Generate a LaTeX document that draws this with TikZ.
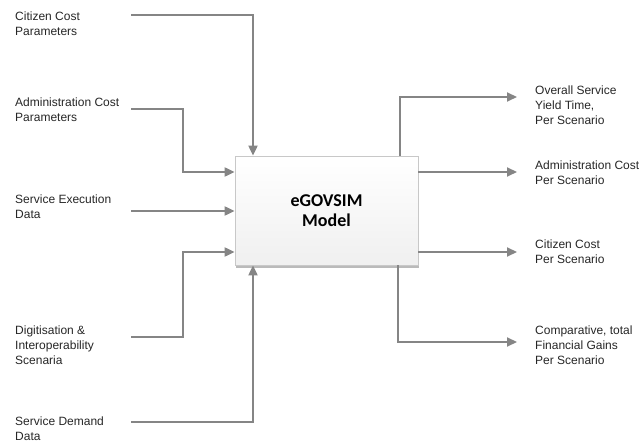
\documentclass[tikz,border=0pt]{standalone}
\usepackage{fontspec}
\setmainfont{Liberation Sans}
\newfontfamily\titlefont{Carlito}
\usetikzlibrary{arrows.meta,shadows}
\definecolor{flow}{HTML}{858585}
\definecolor{boxedge}{HTML}{C8C8C8}
\tikzset{
  flowline/.style={draw=flow, line width=2bp, -{Triangle[length=10bp,width=9bp]}},
  label/.style={align=left, inner sep=0pt, font=\fontsize{12bp}{14.8bp}\selectfont, text=black!85},
  model/.style={draw=boxedge, line width=0.8bp, top color=white, bottom color=black!6,
    minimum width=183bp, minimum height=109bp, inner sep=0pt,
    drop shadow={shadow xshift=1.2bp, shadow yshift=-2.5bp, fill=black!45, opacity=0.6},
    font=\titlefont\bfseries\fontsize{18bp}{20bp}\selectfont, align=center}
}
\begin{document}
\begin{tikzpicture}[x=1bp,y=-1bp]
\useasboundingbox (0,0) rectangle (640,443);

% central model box
\node[model] (m) at (326.5,210.5) {eGOVSIM\\Model};

% input labels
\node[label, anchor=west] (i1) at (15,24) {Citizen Cost\\Parameters};
\node[label, anchor=west] (i2) at (15,110) {Administration Cost\\Parameters};
\node[label, anchor=west] (i3) at (15,207) {Service Execution\\Data};
\node[label, anchor=west] (i4) at (15,345) {Digitisation \&\\Interoperability\\Scenaria};
\node[label, anchor=west] (i5) at (15,429) {Service Demand\\Data};

% output labels
\node[label, anchor=west] (o1) at (535,105) {Overall Service\\Yield Time,\\Per Scenario};
\node[label, anchor=west] (o2) at (535,173) {Administration Cost\\Per Scenario};
\node[label, anchor=west] (o3) at (535,252) {Citizen Cost\\Per Scenario};
\node[label, anchor=west] (o4) at (535,345) {Comparative, total\\Financial Gains\\Per Scenario};

% connector end points
\coordinate (s1) at (131,15);
\coordinate (s2) at (131,109);
\coordinate (s3) at (131,211);
\coordinate (s4) at (131,337);
\coordinate (s5) at (131,422);
\coordinate (t1) at (517,97);
\coordinate (t2) at (517,172);
\coordinate (t3) at (517,252);
\coordinate (t4) at (517,342);

% inputs
\draw[flowline] (s1) -| (m.north -| 253,0);
\draw[flowline] (s2) -| (183,172) -- (m.west |- 0,172);
\draw[flowline] (s3) -- (m.west |- s3);
\draw[flowline] (s4) -| (183,252) -- (m.west |- 0,252);
\draw[flowline] (s5) -| (m.south -| 253,0);

% outputs
\draw[flowline] (m.north -| 400,0) |- (t1);
\draw[flowline] (m.east |- t2) -- (t2);
\draw[flowline] (m.east |- t3) -- (t3);
\draw[flowline] (m.south -| 398,0) |- (t4);
\end{tikzpicture}
\end{document}
